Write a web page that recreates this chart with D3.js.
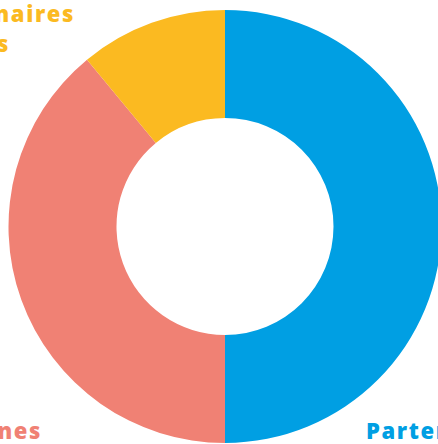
<!DOCTYPE html>
<html>
<head>
<meta charset="utf-8">
<script src="https://cdn.jsdelivr.net/npm/d3@7"></script>
<style>
  body { margin: 0; background: #fff; overflow: hidden; }
  svg { display: block; }
  .label { font-family: "Open Sans", sans-serif; font-weight: 800; font-size: 22px; letter-spacing: 1.6px; }
</style>
</head>
<body>
<svg id="chart" width="438" height="444"></svg>
<script>
// data
const categories = ["Partenaires privés", "Personnes", "Partenaires publics"];
const values = [50, 39, 11];
const colors = ["#009fe3", "#f08174", "#fbba21"];

const width = 438, height = 444;
const cx = 225, cy = 226.5;
const outerR = 216.5, innerR = 108.5;

const svg = d3.select("#chart");

const pie = d3.pie().sort(null).value(function (d) { return d; });
const arc = d3.arc().innerRadius(innerR).outerRadius(outerR);

const donut_group = svg.append("g")
    .attr("transform", "translate(" + cx + "," + cy + ")");

donut_group.selectAll("path")
    .data(pie(values))
    .enter()
    .append("path")
    .attr("d", arc)
    .attr("fill", function (d, i) { return colors[i]; });

// labels (partly outside the frame, like the original)
svg.append("text")
    .attr("class", "label")
    .attr("x", 366)
    .attr("y", 439)
    .attr("fill", colors[0])
    .text(categories[0]);

svg.append("text")
    .attr("class", "label")
    .attr("x", 42)
    .attr("y", 439)
    .attr("text-anchor", "end")
    .attr("fill", colors[1])
    .text(categories[1]);

const pubLines = categories[2].split(" ");
const lineEnds = [75, 10];
svg.append("text")
    .attr("class", "label")
    .attr("y", 22)
    .attr("text-anchor", "end")
    .attr("fill", colors[2])
    .selectAll("tspan")
    .data(pubLines)
    .enter()
    .append("tspan")
    .attr("x", function (d, i) { return lineEnds[i]; })
    .attr("dy", function (d, i) { return i === 0 ? 0 : 30; })
    .text(function (d) { return d; });
</script>
</body>
</html>
